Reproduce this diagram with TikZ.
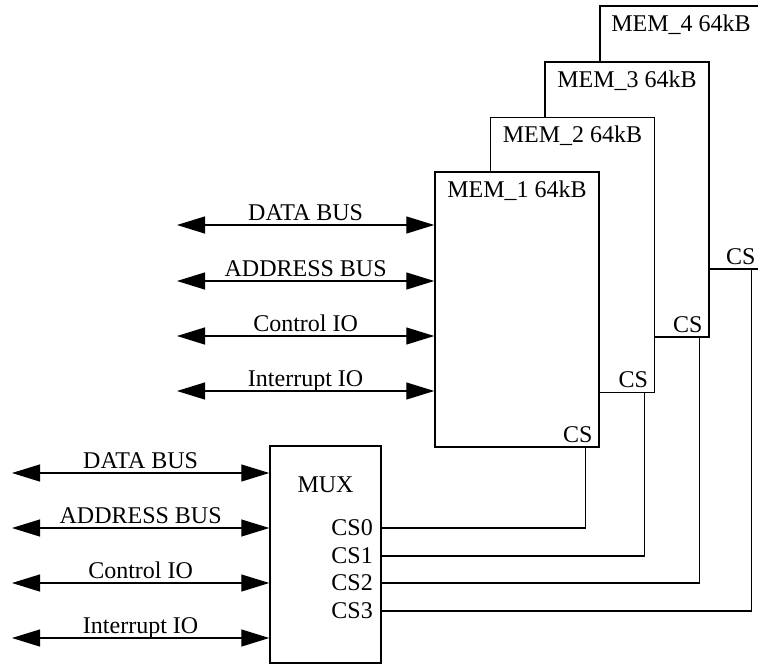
\documentclass[tikz,border=0pt]{standalone}
\usepackage{fontspec}
\setmainfont{Liberation Serif}
\usetikzlibrary{arrows.meta}

\tikzset{
  membox/.style={draw, rectangle, line width=1.5pt, fill=white, minimum width=164, minimum height=275, inner sep=0pt},
  memtitle/.style={anchor=north, yshift=-6pt},
  cslabel/.style={anchor=south east, inner sep=5pt, xshift=-2pt},
  bus/.style={{Triangle[length=28pt,width=17pt]}-{Triangle[length=28pt,width=17pt]}, line width=1.2pt},
  buslabel/.style={midway, above, inner sep=4pt, text depth=0pt},
  wire/.style={line width=1.2pt},
}

\begin{document}
\begin{tikzpicture}[x=1pt, y=-1pt, font=\fontsize{24}{28}\selectfont]
  \clip (0,0) rectangle (758,667);

  % Memory banks, back to front
  \node[membox, minimum width=162, minimum height=263] (mem4) at (681,137.5) {};
  \node[memtitle] (t4) at (mem4.north) {MEM\_4 64kB};
  \node[cslabel] (c4) at (mem4.south east) {CS};

  \node[membox] (mem3) at (627,199.5) {};
  \node[memtitle] (t3) at (mem3.north) {MEM\_3 64kB};
  \node[cslabel] (c3) at (mem3.south east) {CS};

  \node[membox] (mem2) at (572.5,255) {};
  \node[memtitle] (t2) at (mem2.north) {MEM\_2 64kB};
  \node[cslabel] (c2) at (mem2.south east) {CS};

  \node[membox] (mem1) at (517,309.5) {};
  \node[memtitle] (t1) at (mem1.north) {MEM\_1 64kB};
  \node[cslabel] (c1) at (mem1.south east) {CS};

  % Multiplexer
  \node[draw, rectangle, line width=1.5pt, fill=white, minimum width=111, minimum height=217, inner sep=0pt] (mux) at (325.5,554.5) {};
  \node[anchor=north, yshift=-28pt] (muxname) at (mux.north) {MUX};
  \node[anchor=east, inner sep=0pt] (cs0) at (373,528) {CS0};
  \node[anchor=east, inner sep=0pt] (cs1) at (373,556) {CS1};
  \node[anchor=east, inner sep=0pt] (cs2) at (373,583) {CS2};
  \node[anchor=east, inner sep=0pt] (cs3) at (373,611) {CS3};

  % Chip select wires
  \draw[wire] (cs0 -| mux.east) -| ([xshift=-14pt]mem1.south east);
  \draw[wire] (cs1 -| mux.east) -| ([xshift=-11pt]mem2.south east);
  \draw[wire] (cs2 -| mux.east) -| ([xshift=-10pt]mem3.south east);
  \draw[wire] (cs3 -| mux.east) -| ([xshift=-11pt]mem4.south east);

  % Buses to the memory
  \coordinate (ma) at (177,225);
  \coordinate (mb) at (177,281);
  \coordinate (mc) at (177,336);
  \coordinate (md) at (177,391);
  \draw[bus] (ma) -- (ma -| mem1.west) node[buslabel] {DATA BUS};
  \draw[bus] (mb) -- (mb -| mem1.west) node[buslabel] {ADDRESS BUS};
  \draw[bus] (mc) -- (mc -| mem1.west) node[buslabel] {Control IO};
  \draw[bus] (md) -- (md -| mem1.west) node[buslabel] {Interrupt IO};

  % Buses to the multiplexer
  \coordinate (xa) at (12,473);
  \coordinate (xb) at (12,528);
  \coordinate (xc) at (12,583);
  \coordinate (xd) at (12,638);
  \draw[bus] (xa) -- (xa -| mux.west) node[buslabel] {DATA BUS};
  \draw[bus] (xb) -- (xb -| mux.west) node[buslabel] {ADDRESS BUS};
  \draw[bus] (xc) -- (xc -| mux.west) node[buslabel] {Control IO};
  \draw[bus] (xd) -- (xd -| mux.west) node[buslabel] {Interrupt IO};
\end{tikzpicture}
\end{document}
